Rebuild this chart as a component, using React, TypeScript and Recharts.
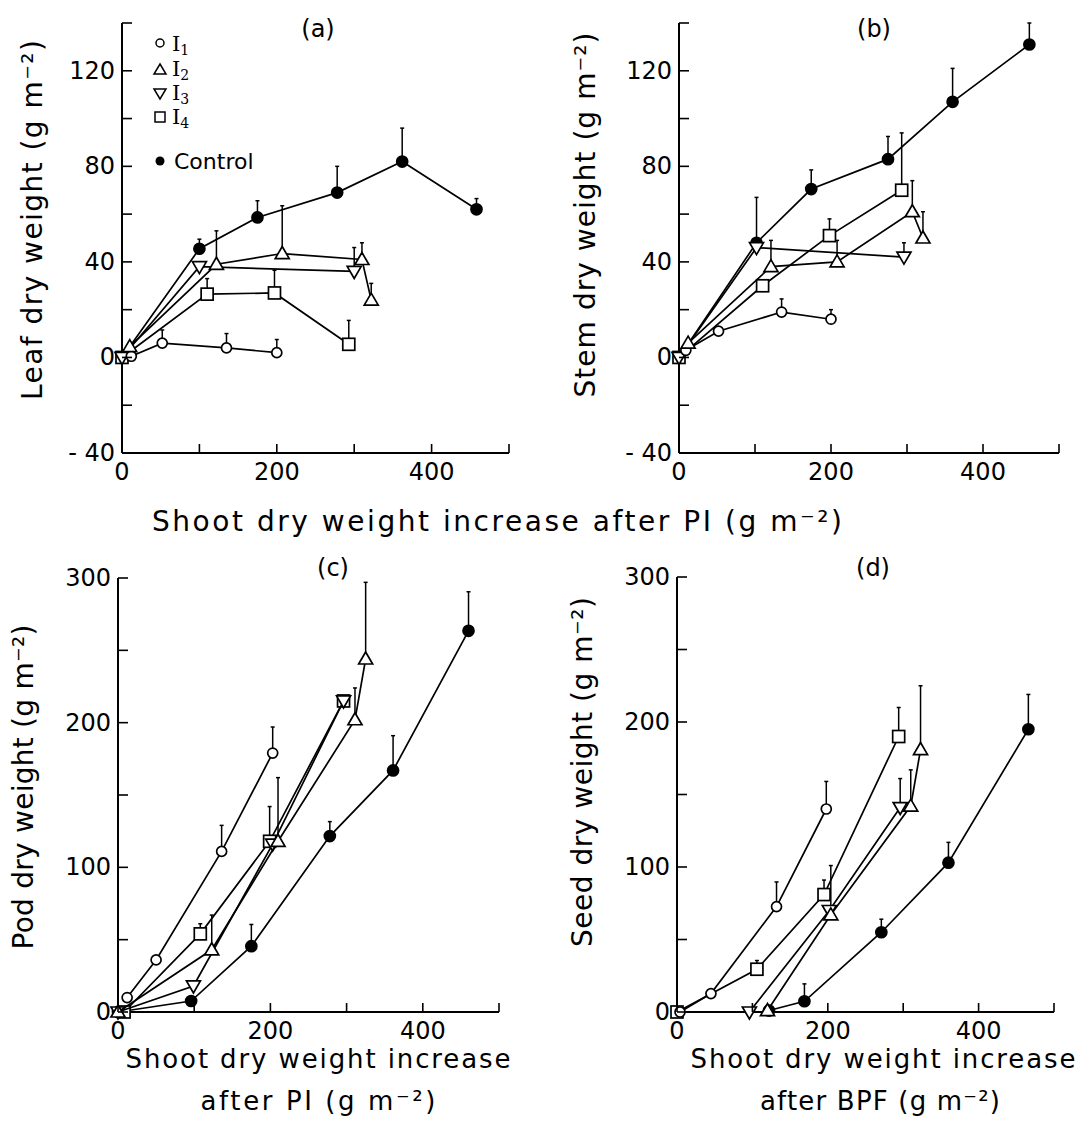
import React from 'react'
import { ScatterChart, Scatter, XAxis, YAxis, ErrorBar } from 'recharts'

// each point: [shoot dry weight increase, organ dry weight, upper error bar]
// (a) leaf
const leafControl = [[0, 0, 0], [100, 45.5, 4], [175, 58.6, 7], [278, 69, 11], [362, 82, 14], [458, 62, 4.5]]
const leafI1 = [[12, 0.5, 0], [52, 6, 5.5], [135, 4, 6], [200, 2, 5.5]]
const leafI2 = [[10, 4.5, 0], [122, 39, 14], [207, 43.5, 20], [310, 41, 7], [322, 24, 7]]
const leafI3 = [[0, 0, 0], [100, 38, 0], [300, 36, 10]]
const leafI4 = [[0, 0, 0], [110, 26.5, 6.5], [197, 27, 9.5], [293, 5.5, 10]]

// (b) stem
const stemControl = [[0, 0, 0], [102, 48, 19], [174, 70.5, 8], [275, 83, 9.5], [360, 107, 14], [461, 131, 9]]
const stemI1 = [[9, 3, 0], [52, 11, 0], [135, 19, 5.5], [200, 16, 4]]
const stemI2 = [[12, 6, 0], [121, 38, 11], [208, 40, 9], [307, 61, 13], [321, 50, 11]]
const stemI3 = [[0, 0, 0], [102, 46, 0], [296, 42, 6]]
const stemI4 = [[0, 0, 0], [110, 30, 0], [198, 51, 7], [293, 70, 24]]

// (c) pod
const podControl = [[0, 0, 0], [96, 7.6, 0], [175, 45.5, 15], [278, 121.6, 10], [361, 167, 24], [460, 263.5, 27]]
const podI1 = [[12, 10, 0], [50, 36, 0], [136, 111, 18], [203, 179, 18]]
const podI2 = [[0, 0, 0], [123, 43, 24], [210, 118, 44], [311, 202, 22], [325, 244, 53]]
const podI3 = [[0, 0, 0], [99, 18, 0], [203, 116, 0], [296, 215, 0]]
const podI4 = [[8, 0, 0], [108, 54, 7], [199, 118, 24], [296, 215, 0]]

// (d) seed
const seedControl = [[122, 1, 0], [169, 7.4, 12], [271, 55, 9], [360, 103, 14], [466, 195, 24]]
const seedI1 = [[4, 0, 0], [45, 12.7, 0], [132, 72.7, 17], [198, 140, 19]]
const seedI2 = [[120, 1, 0], [204, 67, 34], [310, 142, 25], [323, 181, 44]]
const seedI3 = [[96, 0, 0], [202, 70, 0], [296, 141, 20]]
const seedI4 = [[0, 0, 0], [106, 29.5, 6], [195, 81, 10], [294, 190, 20]]

const xTicks = [0, 100, 200, 300, 400, 500]
const xLabels = [0, 200, 400]
const organTicks = [-40, -20, 0, 20, 40, 60, 80, 100, 120, 140]
const organLabels = [-40, 0, 40, 80, 120]
const yieldTicks = [0, 50, 100, 150, 200, 250, 300]
const yieldLabels = [0, 100, 200, 300]

const FONT = '"DejaVu Sans", sans-serif'
const SERIF = '"DejaVu Serif", serif'
const TM = 6

const toRows = (pts: number[][]) => pts.map(([x, y, e]) => ({ x, y, err: [0, e] }))

function Marker({ cx, cy, kind }: any) {
  const st = { stroke: '#000', strokeWidth: 1.7 }
  if (cx == null || cy == null) return null
  switch (kind) {
    case 'circle':
      return <circle cx={cx} cy={cy} r={5} fill="#fff" {...st} />
    case 'up':
      return <polygon points={`${cx},${cy - 7} ${cx + 7},${cy + 5} ${cx - 7},${cy + 5}`} fill="#fff" {...st} />
    case 'down':
      return <polygon points={`${cx - 7},${cy - 5} ${cx + 7},${cy - 5} ${cx},${cy + 7}`} fill="#fff" {...st} />
    case 'square':
      return <rect x={cx - 6} y={cy - 6} width={12} height={12} fill="#fff" {...st} />
    default:
      return <circle cx={cx} cy={cy} r={5.5} fill="#000" {...st} />
  }
}

function YTick({ x, y, payload, labels }: any) {
  const ax = x + TM
  const v = payload.value
  return (
    <g>
      <line x1={ax} x2={ax + 10} y1={y} y2={y} stroke="#000" strokeWidth={1.6} />
      {labels.includes(v) && (
        <text x={ax - 7} y={y} textAnchor="end" dominantBaseline="central" fontSize={24} fontFamily={FONT} fill="#000">
          {v < 0 ? `- ${-v}` : v}
        </text>
      )}
    </g>
  )
}

function XTick({ x, y, payload }: any) {
  const ay = y - TM
  const v = payload.value
  return (
    <g>
      <line x1={x} x2={x} y1={ay} y2={ay - 9} stroke="#000" strokeWidth={1.6} />
      {xLabels.includes(v) && (
        <text x={x} y={ay + 9} textAnchor="middle" dominantBaseline="hanging" fontSize={24} fontFamily={FONT} fill="#000">
          {v}
        </text>
      )}
    </g>
  )
}

interface PanelProps {
  left: number
  top: number
  width: number
  height: number
  margin: { top: number; right: number; bottom: number; left: number }
  yDomain: number[]
  yTicks: number[]
  yLabels: number[]
  control: number[][]
  i1: number[][]
  i2: number[][]
  i3: number[][]
  i4: number[][]
}

function Panel(p: PanelProps) {
  const series = [
    { name: 'Control', pts: p.control, kind: 'dot' },
    { name: 'I4', pts: p.i4, kind: 'square' },
    { name: 'I3', pts: p.i3, kind: 'down' },
    { name: 'I1', pts: p.i1, kind: 'circle' },
    { name: 'I2', pts: p.i2, kind: 'up' },
  ]
  return (
    <div style={{ position: 'absolute', left: p.left, top: p.top }}>
      <ScatterChart width={p.width} height={p.height} margin={p.margin}>
        <XAxis
          type="number"
          dataKey="x"
          domain={[0, 500]}
          ticks={xTicks}
          interval={0}
          height={40}
          tickSize={0}
          tickMargin={TM}
          tickLine={false}
          axisLine={{ stroke: '#000', strokeWidth: 2 }}
          tick={(t: any) => <XTick {...t} />}
        />
        <YAxis
          type="number"
          dataKey="y"
          domain={p.yDomain}
          ticks={p.yTicks}
          interval={0}
          width={60}
          tickSize={0}
          tickMargin={TM}
          tickLine={false}
          axisLine={{ stroke: '#000', strokeWidth: 2 }}
          tick={(t: any) => <YTick {...t} labels={p.yLabels} />}
        />
        {series.map((s) => (
          <Scatter
            key={s.name}
            name={s.name}
            data={toRows(s.pts)}
            fill="#000"
            line={{ stroke: '#000', strokeWidth: 1.7 }}
            lineType="joint"
            shape={(sp: any) => <Marker cx={sp.cx} cy={sp.cy} kind={s.kind} />}
            isAnimationActive={false}
          >
            <ErrorBar dataKey="err" direction="y" width={2} stroke="#000" strokeWidth={1.5} />
          </Scatter>
        ))}
      </ScatterChart>
    </div>
  )
}

const lab = { fontFamily: FONT, fill: '#000' }

export default function App() {
  return (
    <div style={{ position: 'absolute', left: 0, top: 0, width: 1082, height: 1131, background: '#fff' }}>
      <Panel
        left={0} top={0} width={541} height={560}
        margin={{ top: 23, right: 32, bottom: 67, left: 62 }}
        yDomain={[-40, 140]} yTicks={organTicks} yLabels={organLabels}
        control={leafControl} i1={leafI1} i2={leafI2} i3={leafI3} i4={leafI4}
      />
      <Panel
        left={541} top={0} width={541} height={560}
        margin={{ top: 23, right: 23, bottom: 67, left: 78 }}
        yDomain={[-40, 140]} yTicks={organTicks} yLabels={organLabels}
        control={stemControl} i1={stemI1} i2={stemI2} i3={stemI3} i4={stemI4}
      />
      <Panel
        left={0} top={560} width={541} height={571}
        margin={{ top: 18, right: 42, bottom: 79, left: 58 }}
        yDomain={[0, 300]} yTicks={yieldTicks} yLabels={yieldLabels}
        control={podControl} i1={podI1} i2={podI2} i3={podI3} i4={podI4}
      />
      <Panel
        left={541} top={560} width={541} height={571}
        margin={{ top: 17, right: 28, bottom: 79, left: 76 }}
        yDomain={[0, 300]} yTicks={yieldTicks} yLabels={yieldLabels}
        control={seedControl} i1={seedI1} i2={seedI2} i3={seedI3} i4={seedI4}
      />

      <svg width={1082} height={1131} style={{ position: 'absolute', left: 0, top: 0, pointerEvents: 'none' }}>
        {/* panel letters */}
        <text x={318} y={37} textAnchor="middle" fontSize={24} {...lab}>(a)</text>
        <text x={874} y={37} textAnchor="middle" fontSize={24} {...lab}>(b)</text>
        <text x={333} y={576} textAnchor="middle" fontSize={24} {...lab}>(c)</text>
        <text x={873} y={576} textAnchor="middle" fontSize={24} {...lab}>(d)</text>

        {/* y titles */}
        <text transform="translate(42,220) rotate(-90)" textAnchor="middle" fontSize={28} textLength={360} lengthAdjust="spacing" {...lab}>Leaf dry weight (g m⁻²)</text>
        <text transform="translate(595,215) rotate(-90)" textAnchor="middle" fontSize={28} textLength={365} lengthAdjust="spacing" {...lab}>Stem dry weight (g m⁻²)</text>
        <text transform="translate(33,787) rotate(-90)" textAnchor="middle" fontSize={28} textLength={325} lengthAdjust="spacing" {...lab}>Pod dry weight (g m⁻²)</text>
        <text transform="translate(592,772) rotate(-90)" textAnchor="middle" fontSize={28} textLength={350} lengthAdjust="spacing" {...lab}>Seed dry weight (g m⁻²)</text>

        {/* x titles */}
        <text x={497} y={531} textAnchor="middle" fontSize={28} textLength={690} lengthAdjust="spacing" {...lab}>Shoot dry weight increase after PI  (g m⁻²)</text>
        <text x={318} y={1068} textAnchor="middle" fontSize={26} textLength={385} lengthAdjust="spacing" {...lab}>Shoot dry weight increase</text>
        <text x={318} y={1110} textAnchor="middle" fontSize={26} textLength={235} lengthAdjust="spacing" {...lab}>after PI (g m⁻²)</text>
        <text x={883} y={1068} textAnchor="middle" fontSize={26} textLength={385} lengthAdjust="spacing" {...lab}>Shoot dry weight increase</text>
        <text x={880} y={1110} textAnchor="middle" fontSize={26} textLength={240} lengthAdjust="spacing" {...lab}>after BPF (g m⁻²)</text>

        {/* legend for panel (a) */}
        <circle cx={160} cy={43} r={4} fill="#fff" stroke="#000" strokeWidth={1.5} />
        <polygon points="160,64 166,74 154,74" fill="#fff" stroke="#000" strokeWidth={1.5} />
        <polygon points="154,89 166,89 160,99" fill="#fff" stroke="#000" strokeWidth={1.5} />
        <rect x={155} y={112} width={10} height={10} fill="#fff" stroke="#000" strokeWidth={1.5} />
        <circle cx={160} cy={161} r={4.5} fill="#000" />
        <text x={172} y={51} fontSize={21} fontFamily={SERIF}>I<tspan fontSize={14} dy={4}>1</tspan></text>
        <text x={172} y={76} fontSize={21} fontFamily={SERIF}>I<tspan fontSize={14} dy={4}>2</tspan></text>
        <text x={172} y={100} fontSize={21} fontFamily={SERIF}>I<tspan fontSize={14} dy={4}>3</tspan></text>
        <text x={172} y={124} fontSize={21} fontFamily={SERIF}>I<tspan fontSize={14} dy={4}>4</tspan></text>
        <text x={174} y={169} fontSize={22} {...lab}>Control</text>
      </svg>
    </div>
  )
}
